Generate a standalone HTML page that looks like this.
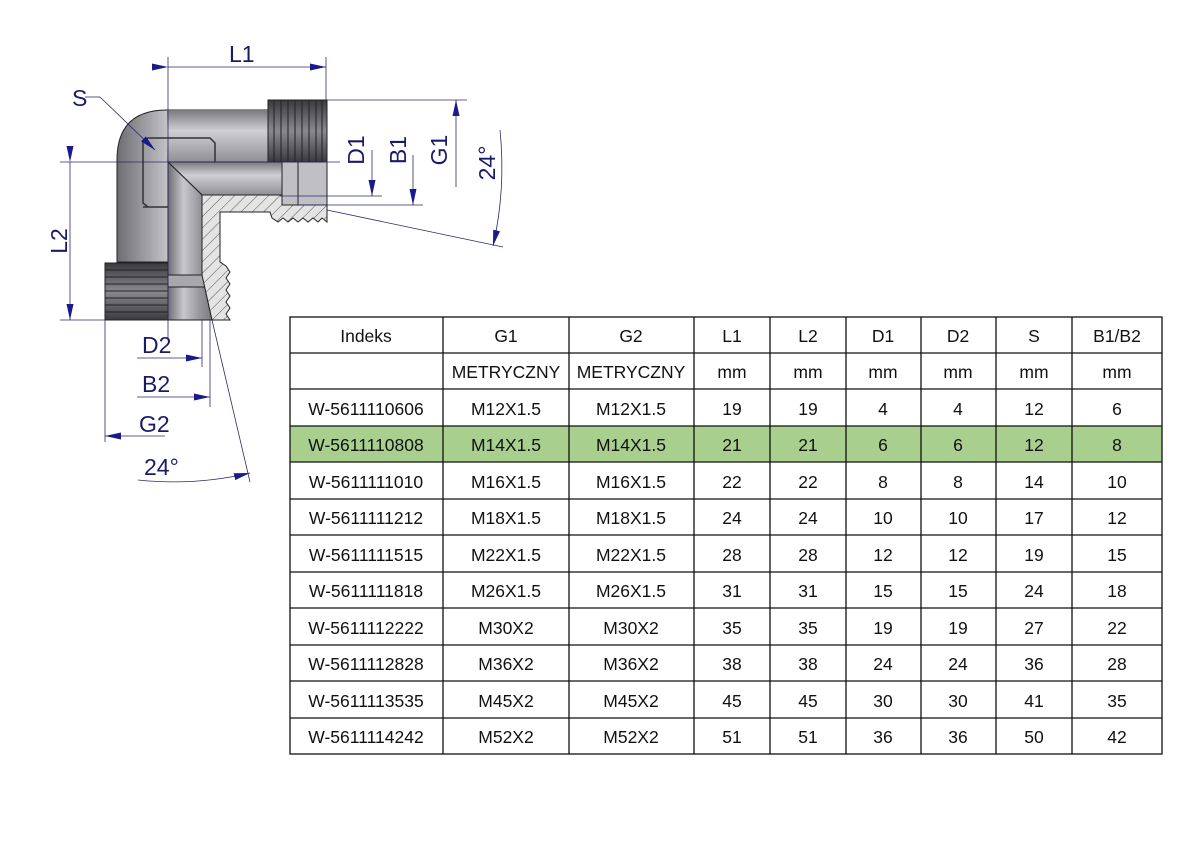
<!DOCTYPE html>
<html><head><meta charset="utf-8"><style>
html,body{margin:0;padding:0;background:#fff;width:1191px;height:842px;overflow:hidden}
svg{display:block}
text{font-family:"Liberation Sans",sans-serif}
</style></head><body>
<svg width="1191" height="842" viewBox="0 0 1191 842" xmlns="http://www.w3.org/2000/svg">
<defs>
<linearGradient id="gv" x1="0" y1="0" x2="1" y2="0">
<stop offset="0" stop-color="#6e6e72"/><stop offset="0.35" stop-color="#c8c8cc"/><stop offset="0.7" stop-color="#9a9a9e"/><stop offset="1" stop-color="#7a7a7e"/></linearGradient>
<linearGradient id="gh" x1="0" y1="0" x2="0" y2="1">
<stop offset="0" stop-color="#7a7a7e"/><stop offset="0.4" stop-color="#d0d0d4"/><stop offset="1" stop-color="#909094"/></linearGradient>
<linearGradient id="gt" x1="0" y1="0" x2="0" y2="1">
<stop offset="0" stop-color="#3a3a3e"/><stop offset="0.5" stop-color="#8a8a8e"/><stop offset="1" stop-color="#3a3a3e"/></linearGradient>
<pattern id="hatch" width="8" height="8" patternUnits="userSpaceOnUse" patternTransform="rotate(45)">
<rect width="8" height="8" fill="#e4e4e4"/><line x1="0" y1="0" x2="0" y2="8" stroke="#555" stroke-width="1"/></pattern>
<marker id="ar" markerWidth="16" markerHeight="7" refX="16" refY="3.5" orient="auto" markerUnits="userSpaceOnUse">
<path d="M0,0 L16,3.5 L0,7 z" fill="#1a1a8a"/></marker>
</defs>

<path d="M117,262 L117,160 Q117,110 167,110 L270,110 L270,162 L168,162 L168,262 Z" fill="url(#gv)" stroke="#222" stroke-width="1"/>
<rect x="167" y="110" width="103" height="52" fill="url(#gh)"/>
<path d="M168,162 L282,162 L282,195 L202,195 Z" fill="url(#gh)" stroke="#222"/>
<path d="M168,162 L202,195 L202,275 L212,320 L168,320 Z" fill="url(#gv)" stroke="#222"/>
<rect x="282" y="162" width="45" height="43" fill="#c0c0c4" stroke="#222"/>
<line x1="298" y1="162" x2="298" y2="205" stroke="#222"/>
<rect x="168" y="275" width="44" height="12" fill="#a8a8ac" stroke="#222"/>
<path d="M148,207 L143,203 L143,142 L148,138 L210,138 L215,143 L215,162" fill="none" stroke="#333" stroke-width="1.5"/>
<line x1="143" y1="207" x2="168" y2="207" stroke="#333" stroke-width="1.5"/>
<rect x="268" y="100" width="59" height="62" fill="url(#gt)" stroke="#222"/>
<g stroke="#222" stroke-width="1">
<line x1="274" y1="100" x2="274" y2="162"/><line x1="281" y1="100" x2="281" y2="162"/><line x1="288" y1="100" x2="288" y2="162"/><line x1="295" y1="100" x2="295" y2="162"/><line x1="302" y1="100" x2="302" y2="162"/><line x1="309" y1="100" x2="309" y2="162"/><line x1="316" y1="100" x2="316" y2="162"/><line x1="322" y1="100" x2="322" y2="162"/>
</g>
<path d="M202,195 L282,195 L282,205 L327,205 L327,222 L322,218 L318,222 L313,218 L308,222 L303,218 L298,222 L293,218 L288,222 L283,218 L278,222 L272,218 L270,212 L220,212 L220,262 L226,266 L230,272 L226,278 L230,284 L226,290 L230,296 L226,302 L230,308 L226,314 L230,320 L212,320 L202,275 Z" fill="url(#hatch)" stroke="#222" stroke-width="1"/>
<rect x="105" y="263" width="63" height="57" fill="url(#gt)" stroke="#222"/>
<g stroke="#222">
<line x1="105" y1="270" x2="168" y2="270"/><line x1="105" y1="277" x2="168" y2="277"/><line x1="105" y1="284" x2="168" y2="284"/><line x1="105" y1="291" x2="168" y2="291"/><line x1="105" y1="298" x2="168" y2="298"/><line x1="105" y1="305" x2="168" y2="305"/><line x1="105" y1="312" x2="168" y2="312"/>
</g>

<g stroke="#2a2a6a" stroke-width="0.8" fill="none">
<line x1="60" y1="162" x2="340" y2="162"/>
<line x1="168" y1="57" x2="168" y2="340"/>
<line x1="326" y1="57" x2="326" y2="100"/>
<line x1="327" y1="100" x2="467" y2="100"/>
<line x1="280" y1="196" x2="382" y2="196"/>
<line x1="298" y1="205" x2="423" y2="205"/>
<line x1="327" y1="210" x2="503" y2="247"/>
<line x1="60" y1="320" x2="105" y2="320"/>
<line x1="105" y1="320" x2="105" y2="442"/>
<line x1="202" y1="320" x2="202" y2="367"/>
<line x1="210" y1="320" x2="210" y2="407"/>
<line x1="212" y1="320" x2="250" y2="482"/>
<line x1="85" y1="97" x2="100" y2="97"/>
<line x1="100" y1="97" x2="155" y2="150" marker-end="url(#ar)"/>
<line x1="168" y1="67" x2="326" y2="67" marker-start="url(#ar)" marker-end="url(#ar)"/>
<line x1="70" y1="162" x2="70" y2="320" marker-start="url(#ar)" marker-end="url(#ar)"/>
<line x1="372" y1="150" x2="372" y2="196" marker-end="url(#ar)"/>
<line x1="413" y1="155" x2="413" y2="205" marker-end="url(#ar)"/>
<line x1="456" y1="187" x2="456" y2="100" marker-end="url(#ar)"/>
<path d="M500,130 Q506,190 493,246" marker-end="url(#ar)"/>
<line x1="137" y1="358" x2="202" y2="358" marker-end="url(#ar)"/>
<line x1="137" y1="397" x2="210" y2="397" marker-end="url(#ar)"/>
<line x1="165" y1="436" x2="105" y2="436" marker-end="url(#ar)"/>
<path d="M138,480 Q195,486 250,473" marker-end="url(#ar)"/>
</g>
<g fill="#1a1a6a" font-size="23">
<text x="229" y="62">L1</text>
<text x="72" y="106">S</text>
<text transform="translate(67,241) rotate(-90)" text-anchor="middle">L2</text>
<text transform="translate(364,150) rotate(-90)" text-anchor="middle">D1</text>
<text transform="translate(406,150) rotate(-90)" text-anchor="middle">B1</text>
<text transform="translate(447,150) rotate(-90)" text-anchor="middle">G1</text>
<text transform="translate(495,163) rotate(-90)" text-anchor="middle">24°</text>
<text x="142" y="353">D2</text>
<text x="142" y="392">B2</text>
<text x="139" y="432">G2</text>
<text x="144" y="475">24°</text>
</g>

<rect x="290" y="426" width="872" height="36" fill="#a9cf8f"/>
<g stroke="#111" stroke-width="1.3">
<rect x="290" y="317" width="872" height="437" fill="none"/>
<line x1="290" y1="353" x2="1162" y2="353"/><line x1="290" y1="389" x2="1162" y2="389"/><line x1="290" y1="426" x2="1162" y2="426"/><line x1="290" y1="462" x2="1162" y2="462"/><line x1="290" y1="499" x2="1162" y2="499"/><line x1="290" y1="535" x2="1162" y2="535"/><line x1="290" y1="572" x2="1162" y2="572"/><line x1="290" y1="608" x2="1162" y2="608"/><line x1="290" y1="645" x2="1162" y2="645"/><line x1="290" y1="681" x2="1162" y2="681"/><line x1="290" y1="718" x2="1162" y2="718"/>
<line x1="443" y1="317" x2="443" y2="754"/><line x1="569" y1="317" x2="569" y2="754"/><line x1="694" y1="317" x2="694" y2="754"/><line x1="770" y1="317" x2="770" y2="754"/><line x1="846" y1="317" x2="846" y2="754"/><line x1="921" y1="317" x2="921" y2="754"/><line x1="996" y1="317" x2="996" y2="754"/><line x1="1072" y1="317" x2="1072" y2="754"/>
</g>
<g font-size="17.5" fill="#111" text-anchor="middle">
<text x="366" y="342">Indeks</text><text x="506" y="342">G1</text><text x="631" y="342">G2</text><text x="732" y="342">L1</text><text x="808" y="342">L2</text><text x="883" y="342">D1</text><text x="958" y="342">D2</text><text x="1034" y="342">S</text><text x="1117" y="342">B1/B2</text>
<text x="506" y="378">METRYCZNY</text><text x="631" y="378">METRYCZNY</text><text x="732" y="378">mm</text><text x="808" y="378">mm</text><text x="883" y="378">mm</text><text x="958" y="378">mm</text><text x="1034" y="378">mm</text><text x="1117" y="378">mm</text>
<text x="366" y="415">W-5611110606</text><text x="506" y="415">M12X1.5</text><text x="631" y="415">M12X1.5</text><text x="732" y="415">19</text><text x="808" y="415">19</text><text x="883" y="415">4</text><text x="958" y="415">4</text><text x="1034" y="415">12</text><text x="1117" y="415">6</text>
<text x="366" y="451">W-5611110808</text><text x="506" y="451">M14X1.5</text><text x="631" y="451">M14X1.5</text><text x="732" y="451">21</text><text x="808" y="451">21</text><text x="883" y="451">6</text><text x="958" y="451">6</text><text x="1034" y="451">12</text><text x="1117" y="451">8</text>
<text x="366" y="488">W-5611111010</text><text x="506" y="488">M16X1.5</text><text x="631" y="488">M16X1.5</text><text x="732" y="488">22</text><text x="808" y="488">22</text><text x="883" y="488">8</text><text x="958" y="488">8</text><text x="1034" y="488">14</text><text x="1117" y="488">10</text>
<text x="366" y="524">W-5611111212</text><text x="506" y="524">M18X1.5</text><text x="631" y="524">M18X1.5</text><text x="732" y="524">24</text><text x="808" y="524">24</text><text x="883" y="524">10</text><text x="958" y="524">10</text><text x="1034" y="524">17</text><text x="1117" y="524">12</text>
<text x="366" y="561">W-5611111515</text><text x="506" y="561">M22X1.5</text><text x="631" y="561">M22X1.5</text><text x="732" y="561">28</text><text x="808" y="561">28</text><text x="883" y="561">12</text><text x="958" y="561">12</text><text x="1034" y="561">19</text><text x="1117" y="561">15</text>
<text x="366" y="597">W-5611111818</text><text x="506" y="597">M26X1.5</text><text x="631" y="597">M26X1.5</text><text x="732" y="597">31</text><text x="808" y="597">31</text><text x="883" y="597">15</text><text x="958" y="597">15</text><text x="1034" y="597">24</text><text x="1117" y="597">18</text>
<text x="366" y="634">W-5611112222</text><text x="506" y="634">M30X2</text><text x="631" y="634">M30X2</text><text x="732" y="634">35</text><text x="808" y="634">35</text><text x="883" y="634">19</text><text x="958" y="634">19</text><text x="1034" y="634">27</text><text x="1117" y="634">22</text>
<text x="366" y="670">W-5611112828</text><text x="506" y="670">M36X2</text><text x="631" y="670">M36X2</text><text x="732" y="670">38</text><text x="808" y="670">38</text><text x="883" y="670">24</text><text x="958" y="670">24</text><text x="1034" y="670">36</text><text x="1117" y="670">28</text>
<text x="366" y="707">W-5611113535</text><text x="506" y="707">M45X2</text><text x="631" y="707">M45X2</text><text x="732" y="707">45</text><text x="808" y="707">45</text><text x="883" y="707">30</text><text x="958" y="707">30</text><text x="1034" y="707">41</text><text x="1117" y="707">35</text>
<text x="366" y="743">W-5611114242</text><text x="506" y="743">M52X2</text><text x="631" y="743">M52X2</text><text x="732" y="743">51</text><text x="808" y="743">51</text><text x="883" y="743">36</text><text x="958" y="743">36</text><text x="1034" y="743">50</text><text x="1117" y="743">42</text>
</g>
</svg>
</body></html>
